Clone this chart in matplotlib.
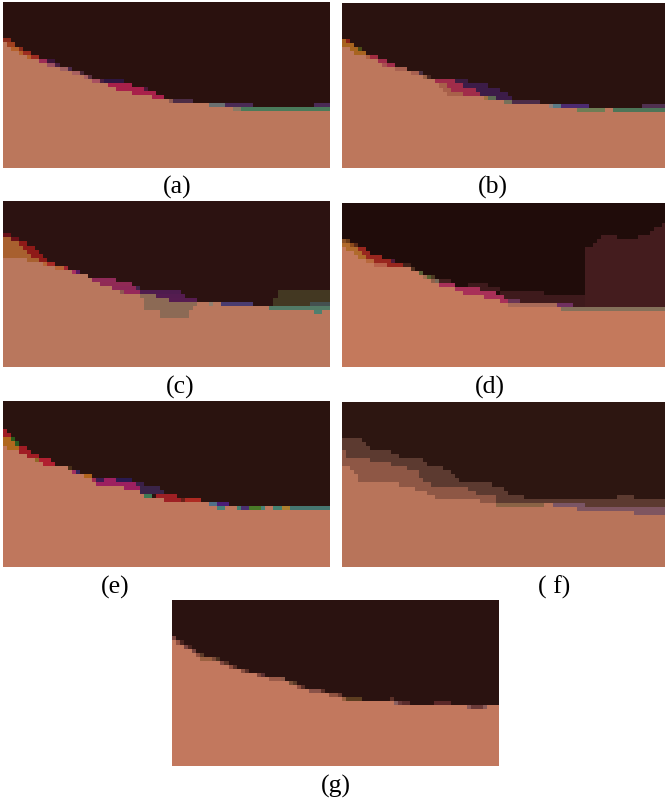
import numpy as np
import matplotlib
matplotlib.use("Agg")
import matplotlib.pyplot as plt
from matplotlib.colors import to_rgb

plt.rcParams['font.family'] = ['Liberation Serif', 'DejaVu Serif']

LABELS = ['(a)', '(b)', '(c)', '(d)', '(e)', '( f)', '(g)']

# boundary of the lower class: (end column, first row) runs
A_TOP = [(1,10),(2,11),(4,12),(6,13),(9,14),(11,15),(14,16),(17,17),(20,18),(22,19),(26,20),(28,21),(32,22),(37,23),(41,24),(51,25),(57,26),(81,27)]
B_TOP = [(2,11),(3,12),(6,13),(9,14),(10,15),(13,16),(17,17),(20,18),(23,19),(24,20),(25,21),(26,22),(35,23),(40,24),(51,25),(58,26),(65,27),(67,26),(80,27)]
C_TOP = [(6,14),(10,15),(13,16),(17,17),(21,18),(22,19),(24,20),(27,21),(30,22),(34,23),(35,24),(54,25),(66,26),(81,27)]
D_TOP = [(1,11),(3,12),(4,13),(6,14),(8,15),(17,16),(19,17),(20,18),(22,19),(24,20),(28,21),(30,22),(35,23),(39,24),(41,25),(54,26),(80,27)]
E_TOP = [(1,11),(4,12),(6,13),(9,14),(10,15),(16,16),(17,17),(20,18),(22,19),(23,20),(30,21),(34,22),(35,23),(40,24),(51,25),(53,26),(55,27),(58,26),(65,27),(67,26),(81,27)]
F_TOP = [(2,16),(3,17),(4,18),(14,20),(18,21),(21,22),(23,23),(34,24),(38,25),(50,26),(52,25),(58,26),(72,27),(80,28)]
G_TOP = [(1,10),(3,11),(5,12),(6,13),(7,14),(12,15),(14,16),(17,17),(21,18),(24,19),(29,20),(31,21),(34,22),(39,23),(42,24),(55,25),(73,26),(78,27),(81,26)]

# extra layers in panel f: (end column, first row) runs
F_BROWN = [(5,9),(6,10),(7,11),(12,12),(14,13),(20,14),(21,15),(25,16),(27,17),(28,18),(29,19),(37,20),(40,21),(41,22),(45,23),(68,24),(72,23),(80,24)]
F_MID = [(1,12),(7,14),(12,15),(16,16),(19,17),(20,19),(22,20),(31,21),(33,22),(38,23),(80,40)]
# block in panel d
D_BLOCK = [(60,40),(62,11),(63,10),(64,9),(68,8),(73,9),(76,8),(77,7),(79,6),(80,5)]

# small regions: (row, first column, end column, colour)
A_PATCHES = [(9,0,2,'#8a2a1a'),(10,1,3,'#a0401f'),(11,2,4,'#b5602a'),(11,4,5,'#8a2a1a'),(12,4,5,'#b5602a'),(12,5,7,'#9c2c20'),
    (13,6,7,'#b5602a'),(13,7,9,'#9c2c20'),(14,9,11,'#9c2c55'),(14,11,13,'#3c1538'),(15,11,13,'#9c5060'),(15,13,14,'#4a2040'),
    (16,14,16,'#a06060'),(16,16,17,'#4a2848'),(17,17,19,'#a86060'),(17,19,20,'#4a2835'),(18,20,21,'#a86060'),(18,21,22,'#5a3040'),
    (19,22,24,'#a85060'),(19,24,25,'#4a2040'),(19,25,30,'#2e1640'),(20,26,32,'#a8204a'),(21,28,35,'#a8204a'),(21,35,36,'#4a1838'),
    (22,32,38,'#a8204a'),(23,37,40,'#a8204a'),(24,41,42,'#8f5a50'),(24,42,47,'#4c2c44'),(25,51,55,'#6a7070'),(25,55,62,'#4a2a55'),
    (25,77,81,'#4a2a55'),(26,57,59,'#8a7a65'),(26,59,81,'#4a7a5a')]
B_PATCHES = [(9,0,1,'#a8601f'),(9,1,2,'#8a2015'),(10,0,3,'#a8641f'),(11,2,4,'#a8641f'),(11,4,5,'#4a4a15'),(12,3,6,'#a8641f'),
    (13,6,7,'#b0603f'),(13,7,9,'#a02c40'),(14,9,11,'#a02c4a'),(15,10,11,'#a85050'),(15,11,13,'#a02c4a'),(16,13,16,'#a8604f'),
    (17,17,19,'#a86050'),(17,19,20,'#4a3040'),(18,20,21,'#9a6045'),(18,21,22,'#4a2822'),(19,23,28,'#a02c4a'),(19,28,31,'#3c1c40'),
    (20,24,26,'#a8604a'),(20,26,30,'#a02c4a'),(20,30,36,'#3c1c48'),(21,25,27,'#a8604a'),(21,27,33,'#a02c4a'),(21,33,39,'#3c1c48'),
    (22,26,30,'#a8604a'),(22,30,34,'#a02c4a'),(22,34,41,'#3c1c48'),(23,35,36,'#a07040'),(23,36,38,'#5e6a52'),(23,38,42,'#3c1c48'),
    (24,40,42,'#76705a'),(24,42,49,'#4c2c48'),(25,51,52,'#90807a'),(25,52,54,'#5a7a85'),(25,54,61,'#4c2a70'),(25,74,80,'#503050'),
    (26,58,65,'#6e7d55'),(26,67,80,'#4d7558')]
C_PATCHES = [(8,0,2,'#6a1018'),(9,0,2,'#a8602f'),(9,2,4,'#6a1018'),(10,0,4,'#a8602f'),(10,4,6,'#8e1a18'),(11,0,5,'#a8602f'),(11,5,8,'#8e1a18'),
    (12,0,6,'#a8602f'),(12,6,9,'#8e1a18'),(13,0,7,'#a8602f'),(13,7,10,'#8e1a18'),(14,6,9,'#a8602f'),(14,9,11,'#8e1a18'),(15,10,11,'#b86435'),
    (15,11,13,'#a82a25'),(16,13,15,'#b86435'),(16,15,16,'#a02530'),(17,17,18,'#a83060'),(17,18,19,'#581860'),(19,22,28,'#902a58'),(20,24,32,'#902a55'),
    (21,27,33,'#8e2858'),(21,33,34,'#3e2448'),(22,29,30,'#8e5a50'),(22,30,34,'#96285a'),(22,34,44,'#4e1c4e'),(23,34,38,'#8c6a55'),(23,38,45,'#541c50'),
    (24,35,41,'#8c6a55'),(24,41,48,'#561c50'),(25,35,48,'#8c6a55'),(26,35,47,'#8c6a55'),(27,39,46,'#8c6a55'),(28,39,46,'#8c6a55'),
    (25,51,52,'#8f8070'),(25,54,62,'#4a3c70'),(22,68,81,'#433822'),(23,68,81,'#433822'),(24,67,81,'#433822'),(25,67,76,'#433822'),(25,76,81,'#445050'),
    (26,66,81,'#527a66'),(27,77,79,'#4f7f6e')]
D_PATCHES = [(9,0,1,'#8a5025'),(9,1,2,'#6a3a18'),(10,0,2,'#b06a2c'),(10,2,3,'#8a4a1c'),(10,3,4,'#5a2a18'),(11,1,4,'#b06a2c'),(11,4,6,'#98261e'),
    (12,3,5,'#b06a2c'),(12,5,7,'#98261e'),(13,4,6,'#b06a2c'),(13,6,10,'#98261e'),(14,6,8,'#b8683c'),(14,8,12,'#98261e'),(14,12,13,'#4e1a36'),
    (15,8,11,'#b8604a'),(15,11,15,'#98261e'),(15,15,17,'#42221a'),(16,17,18,'#50301f'),(17,19,20,'#5a6035'),(18,20,21,'#a07050'),(18,21,22,'#566030'),
    (18,22,23,'#4e3a22'),(19,22,23,'#90604a'),(19,23,24,'#7a6a58'),(19,24,27,'#44201f'),(20,24,28,'#a83058'),(20,31,36,'#3e1a1c'),(21,28,34,'#a83058'),
    (21,34,39,'#3e1a1c'),(22,30,38,'#a83058'),(22,39,50,'#3e1a1c'),(23,35,40,'#a83058'),(23,40,60,'#3e1a1c'),(24,39,41,'#a83058'),(24,41,44,'#6a3555'),
    (24,44,60,'#3e1a1c'),(25,41,53,'#a86a58'),(25,53,57,'#703060'),(25,57,60,'#3e1a1c'),(26,54,80,'#84705a')]
E_PATCHES = [(7,0,1,'#a01c24'),(8,0,2,'#a01c24'),(9,0,2,'#b0681e'),(9,2,3,'#2a5a1a'),(10,0,3,'#b0681e'),(10,3,4,'#2a5a20'),(11,1,4,'#b0681e'),(11,4,6,'#a01c24'),
    (12,4,7,'#a01c24'),(13,6,9,'#a01c24'),(14,8,9,'#906828'),(14,9,12,'#b02030'),(15,10,13,'#b02030'),(16,16,17,'#4a3018'),(17,17,18,'#a03060'),(17,18,19,'#30245a'),
    (18,20,22,'#b0641c'),(19,22,23,'#a02c50'),(19,23,25,'#3c1c50'),(19,25,28,'#9c2060'),(19,28,32,'#2a1a50'),(20,23,33,'#9c2060'),(20,33,35,'#3a1f48'),
    (21,30,34,'#9c2060'),(21,34,39,'#3a2448'),(22,34,40,'#3a2448'),(23,35,37,'#3c7a55'),(23,38,43,'#9e2024'),(24,40,44,'#9e2024'),(24,44,45,'#6a2018'),(24,45,49,'#ae2a22'),
    (25,51,53,'#507088'),(25,53,56,'#4a1e78'),(26,53,55,'#468078'),(26,58,59,'#448070'),(26,59,61,'#4a3070'),(26,61,64,'#4a7a28'),(26,64,65,'#488078'),
    (26,67,69,'#448070'),(26,69,71,'#ac8030'),(26,71,81,'#467670')]
F_PATCHES = [(25,38,50,'#8a6345'),(25,52,60,'#7a5565'),(26,58,80,'#7e5560'),(27,72,80,'#7e5560')]
G_PATCHES = [(9,0,1,'#7a4540'),(10,1,2,'#904f40'),(10,2,3,'#4a2520'),(11,3,4,'#7a4540'),(11,4,5,'#4a2520'),(12,5,6,'#7a4540'),(13,6,7,'#904f40'),(13,7,8,'#5a3a28'),
    (14,7,10,'#9a6040'),(14,10,11,'#7a4a38'),(14,11,12,'#4a3020'),(15,12,13,'#804a40'),(15,13,14,'#5a3528'),(16,14,15,'#905040'),(16,15,16,'#5a3028'),
    (17,17,18,'#8a5040'),(17,18,19,'#5a3028'),(18,21,22,'#80483c'),(18,22,23,'#5c3030'),(19,24,27,'#9a5a48'),(19,27,28,'#8e5a48'),(20,29,30,'#7a5038'),(20,30,31,'#5a3a28'),
    (21,31,32,'#905040'),(21,32,33,'#5a3028'),(22,34,37,'#8a5248'),(22,37,38,'#5a3028'),(23,39,41,'#8e5240'),(23,41,42,'#6a3a30'),(24,42,43,'#9a6040'),(24,43,47,'#5c3d20'),
    (24,54,55,'#5a3028'),(25,55,56,'#8a6060'),(25,56,57,'#6a3a3a'),(25,57,59,'#5a2c2c'),(25,65,69,'#5a2828'),(26,73,74,'#8a5a58'),(26,74,77,'#6a3a38'),(26,77,78,'#8a5a58')]

SIZE = 665, 804

def tops(runs):
    out, start = [], 0
    for end, row in runs:
        out += [row] * (end - start)
        start = end
    return np.array(out)

def paint(img, runs, colour):
    rows = tops(runs)
    for c, r in enumerate(rows):
        img[r:, c] = to_rgb(colour)

def panel(ncols, dark, low, top, patches, layers=()):
    img = np.zeros((41, ncols, 3))
    img[:, :] = to_rgb(dark)
    for runs, colour in layers:
        paint(img, runs, colour)
    paint(img, top, low)
    for r, c0, c1, colour in patches:
        img[r, c0:c1] = to_rgb(colour)
    return img

PANELS = [
    (3, 330, 3, 169, panel(81, '#2a110e', '#bb775c', A_TOP, A_PATCHES)),
    (342, 665, 4, 169, panel(80, '#2a120f', '#bd775c', B_TOP, B_PATCHES)),
    (3, 330, 202, 368, panel(81, '#2c1211', '#b9775d', C_TOP, C_PATCHES)),
    (342, 665, 204, 368, panel(80, '#200c0a', '#c4795c', D_TOP, D_PATCHES, [(D_BLOCK, '#441c1e')])),
    (3, 330, 402, 568, panel(81, '#2a130f', '#bf775d', E_TOP, E_PATCHES)),
    (342, 665, 403, 568, panel(80, '#2d1611', '#b8745a', F_TOP, F_PATCHES, [(F_BROWN, '#5c3a30'), (F_MID, '#8e5745')])),
    (172, 499, 601, 767, panel(81, '#2a1210', '#c2785e', G_TOP, G_PATCHES)),
]
LABEL_POS = [(177, 187), (493, 187), (180, 387), (490, 387), (115, 587), (554, 587), (336, 786)]

fig = plt.figure(figsize=(SIZE[0] / 100, SIZE[1] / 100), dpi=100, facecolor='white')
W, H = SIZE
for x0, x1, y0, y1, img in PANELS:
    ax = fig.add_axes([x0 / W, 1 - y1 / H, (x1 - x0) / W, (y1 - y0) / H])
    ax.imshow(img, aspect='auto', interpolation='nearest')
    ax.set_axis_off()
for (x, y), s in zip(LABEL_POS, LABELS):
    fig.text(x / W, 1 - y / H, s, ha='center', va='center', fontsize=18.5, color='black')
fig.savefig('out.png', dpi=100, facecolor='white')
